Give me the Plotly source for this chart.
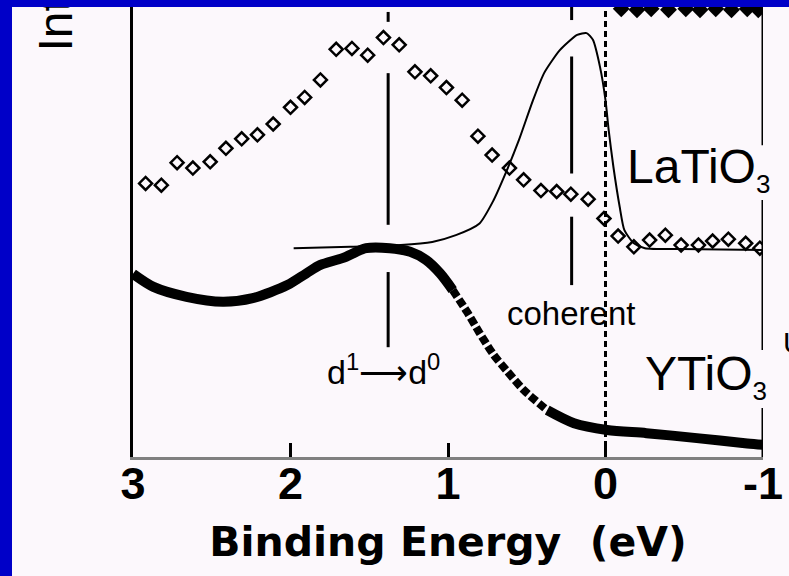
import plotly.graph_objects as go

# ---------------- data ----------------
# LaTiO3 photoemission points (binding energy in eV, intensity in arb. units)
la_exp_e = [2.92, 2.82, 2.72, 2.62, 2.51, 2.41, 2.31, 2.21, 2.11, 2.00,
            1.91, 1.81, 1.71, 1.61, 1.51, 1.41, 1.31, 1.21, 1.11, 1.01,
            0.91, 0.81, 0.72, 0.61, 0.52, 0.41, 0.31, 0.22, 0.11, 0.01,
            -0.08, -0.18, -0.28, -0.38, -0.48, -0.59, -0.68, -0.78, -0.89, -0.98]
la_exp_i = [60.8, 60.4, 65.4, 64.2, 65.6, 68.6, 70.7, 71.6, 74.0, 77.7,
            79.9, 83.8, 90.6, 90.8, 89.3, 93.2, 91.6, 85.6, 84.7, 82.1,
            79.3, 71.3, 67.1, 64.2, 61.6, 59.2, 59.0, 58.4, 57.3, 53.0,
            49.1, 46.7, 48.2, 49.3, 47.1, 47.1, 48.0, 48.4, 47.5, 46.4]

# LaTiO3 model curve
la_fit_e = [1.98, 1.62, 1.30, 1.10, 0.95, 0.80, 0.71, 0.63, 0.55, 0.46,
            0.39, 0.29, 0.18, 0.12, 0.08, 0.035, 0.00, -0.02, -0.05, -0.09,
            -0.12, -0.18, -0.25, -0.47, -1.00]
la_fit_i = [46.4, 46.7, 47.1, 47.8, 49.3, 51.9, 57.1, 63.4, 70.4, 79.3,
            85.3, 90.4, 93.8, 94.2, 92.7, 86.7, 79.3, 72.7, 64.5, 55.6,
            50.4, 47.5, 46.4, 46.2, 46.0]

# YTiO3 photoemission spectrum
y_e = [3.00, 2.87, 2.66, 2.43, 2.24, 2.02, 1.90, 1.81, 1.67, 1.52,
       1.37, 1.24, 1.14, 1.05, 0.97, 0.88, 0.80, 0.71, 0.63, 0.52,
       0.37, 0.20, -0.01, -0.26, -0.58, -0.90, -1.00]
y_i = [40.7, 37.8, 35.6, 34.5, 35.3, 38.2, 40.8, 42.7, 44.2, 46.4,
       46.4, 45.6, 43.8, 40.8, 37.1, 32.3, 27.6, 22.7, 19.3, 14.9,
       10.4, 7.5, 6.0, 5.3, 4.2, 3.0, 2.7]
steep_from, steep_to = 14, 20   # index range drawn as separate dots

# spectrum running along the top edge
top_e = [-0.10, -0.20, -0.29, -0.40, -0.51, -0.60, -0.70, -0.80, -0.90, -0.97]
top_i = [99.6, 99.4, 99.6, 99.4, 99.6, 99.4, 99.6, 99.4, 99.6, 99.4]

# guide lines: (energy, [(y0, y1), ...])
d_line = (1.38, [(96.7, 98.9), (51.6, 85.3), (24.4, 41.1)])
coh_line = (0.215, [(97.1, 100.0), (63.0, 89.0), (38.2, 53.4)])
fermi_e = 0.0
right_edge = (-1.0, [(69.3, 100.0), (23.8, 57.1), (0.0, 10.9)])

x_ticks = [3, 2, 1, 0, -1]
x_ticklabels = ["3", "2", "1", "0", "-1"]

BG = "#FCF8FC"
BLUE = "#0000C8"
SANS = "Liberation Sans, Arial, sans-serif"
SUB3 = "<sub><span style='font-size:26px'>3</span></sub>"

fig = go.Figure()

fig.add_trace(go.Scatter(
    x=la_fit_e, y=la_fit_i, mode="lines",
    line=dict(color="black", width=2, shape="spline", smoothing=0.6),
    showlegend=False, hoverinfo="skip"))

# YTiO3: dense data drawn as a heavy band, with the steep edge dotted
fig.add_trace(go.Scatter(
    x=y_e[:steep_from + 1], y=y_i[:steep_from + 1], mode="lines",
    line=dict(color="black", width=10, shape="spline", smoothing=0.8),
    showlegend=False, hoverinfo="skip"))
fig.add_trace(go.Scatter(
    x=y_e[steep_from:steep_to + 1], y=y_i[steep_from:steep_to + 1], mode="lines",
    line=dict(color="black", width=8, shape="spline", smoothing=0.8, dash="8px,3px"),
    showlegend=False, hoverinfo="skip"))
fig.add_trace(go.Scatter(
    x=y_e[steep_to:], y=y_i[steep_to:], mode="lines",
    line=dict(color="black", width=10, shape="spline", smoothing=0.8),
    showlegend=False, hoverinfo="skip"))

fig.add_trace(go.Scatter(
    x=la_exp_e, y=la_exp_i, mode="markers",
    marker=dict(symbol="diamond-open", size=10, color="black",
                line=dict(color="black", width=2.5)),
    showlegend=False, hoverinfo="skip"))

fig.add_trace(go.Scatter(
    x=top_e, y=top_i, mode="markers",
    marker=dict(symbol="diamond", size=13, color="black"),
    showlegend=False, hoverinfo="skip"))

shapes = []
for e, segs in (d_line, coh_line, right_edge):
    for y0, y1 in segs:
        shapes.append(dict(type="line", xref="x", yref="y", x0=e, x1=e, y0=y0, y1=y1,
                           line=dict(color="black", width=3)))
shapes.append(dict(type="line", xref="x", yref="y", x0=fermi_e, x1=fermi_e, y0=0, y1=100,
                   line=dict(color="black", width=3, dash="6px,4px")))

# blue frame on the left and top edges
L, R, T, B = 133, 763, 7, 457
W, H = R - L, B - T
def px(x):
    return (x - L) / W
def py(y):
    return (B - y) / H
shapes.append(dict(type="rect", xref="paper", yref="paper",
                   x0=px(0), x1=px(12), y0=py(576), y1=py(0),
                   fillcolor=BLUE, line=dict(width=0), layer="above"))
shapes.append(dict(type="rect", xref="paper", yref="paper",
                   x0=px(0), x1=px(789), y0=py(T), y1=py(0),
                   fillcolor=BLUE, line=dict(width=0), layer="above"))

annotations = [
    dict(text="LaTiO" + SUB3, x=-0.125, y=64.0, xref="x", yref="y",
         xanchor="left", yanchor="middle", showarrow=False,
         font=dict(family=SANS, size=48, color="black")),
    dict(text="YTiO" + SUB3, x=-0.24, y=18.0, xref="x", yref="y",
         xanchor="left", yanchor="middle", showarrow=False,
         font=dict(family=SANS, size=48, color="black")),
    dict(text="coherent", x=0.222, y=32.0, xref="x", yref="y",
         xanchor="center", yanchor="middle", showarrow=False,
         font=dict(family=SANS, size=33, color="black")),
    dict(text="d<sup>1</sup>\u27f6d<sup>0</sup>", x=1.41, y=19.5, xref="x", yref="y",
         xanchor="center", yanchor="middle", showarrow=False,
         font=dict(family=SANS, size=34, color="black")),
    dict(text="U", x=px(781), y=py(343), xref="paper", yref="paper",
         xanchor="left", yanchor="middle", showarrow=False,
         font=dict(family=SANS, size=30, color="black")),
    # y title, running up into the top band
    dict(text="Intensity", x=px(55), y=py(54), xref="paper", yref="paper",
         xanchor="center", yanchor="bottom", textangle=-90, showarrow=False,
         width=47, align="left",
         font=dict(family=SANS, size=48, color="black")),
    # strip of the top band laid over the title's far end
    dict(text=".", x=px(0), y=py(0), xref="paper", yref="paper",
         xanchor="left", yanchor="top", showarrow=False, width=160, height=T,
         bgcolor=BLUE, borderpad=0, borderwidth=0,
         font=dict(size=4, color=BLUE)),
]

fig.update_layout(
    width=789, height=576,
    margin=dict(l=L, r=789 - R, t=T, b=576 - B, pad=0),
    paper_bgcolor=BG, plot_bgcolor=BG,
    shapes=shapes, annotations=annotations,
    xaxis=dict(range=[3, -1], tickvals=x_ticks, ticktext=x_ticklabels,
               ticks="inside", ticklen=14, tickwidth=2.5, tickcolor="black",
               showline=True, linecolor="#808080", linewidth=3,
               showgrid=False, zeroline=False, ticklabelstandoff=-15,
               tickfont=dict(family=SANS, size=45, color="black", weight="bold"),
               title=dict(text="Binding Energy\u00a0 (eV)", standoff=20,
                          font=dict(family="DejaVu Sans", size=41, color="black",
                                    weight="bold"))),
    yaxis=dict(range=[0, 100], showline=True, linecolor="black", linewidth=3,
               showticklabels=False, ticks="", showgrid=False, zeroline=False),
)

fig.write_html("out.html")
